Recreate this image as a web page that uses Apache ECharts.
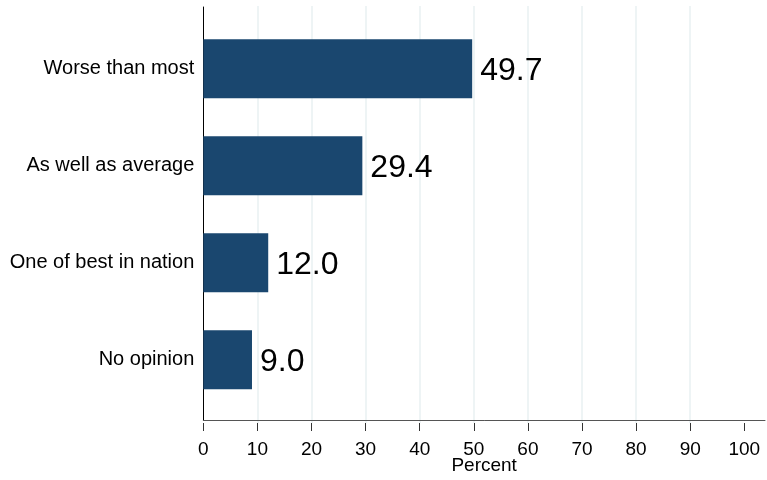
<!DOCTYPE html>
<html>
<head>
<meta charset="utf-8">
<script src="https://cdn.jsdelivr.net/npm/echarts@6/dist/echarts.min.js"></script>
<style>
html,body{margin:0;padding:0;background:#fff;}
#c{width:767px;height:480px;}
</style>
</head>
<body>
<div id="c"></div>
<script>
const categories = ['Worse than most', 'As well as average', 'One of best in nation', 'No opinion'];
const values = [49.7, 29.4, 12.0, 9.0];
const xTicks = [0, 10, 20, 30, 40, 50, 60, 70, 80, 90, 100];
const xTitle = 'Percent';

const FONT = '"Liberation Sans", Arial, sans-serif';
const chart = echarts.init(document.getElementById('c'), null, {renderer: 'canvas'});

const L = 203.3;
const W100 = 541;      // width for 0..100
const TOP = 6, BOTTOM = 57;

chart.setOption({
  backgroundColor: '#fff',
  animation: false,
  grid: [
    {left: L, top: TOP, width: W100, bottom: BOTTOM, containLabel: false},
    {left: L, top: TOP + 1, right: 2, bottom: BOTTOM, containLabel: false},
    {left: L, top: 20.3, width: W100, height: 388, containLabel: false}
  ],
  xAxis: [
    {
      gridIndex: 0, type: 'value', min: xTicks[0], max: xTicks[xTicks.length - 1], interval: 10,
      axisLine: {show: false},
      axisTick: {show: true, length: 8, lineStyle: {color: '#333', width: 1}},
      axisLabel: {show: true, margin: 17, fontSize: 19, color: '#000', fontFamily: FONT,
        formatter: v => xTicks.indexOf(v) >= 0 ? String(v) : ''},
      splitLine: {show: true, showMinLine: false, showMaxLine: false, lineStyle: {color: '#e8f0f2', width: 1.5}}
    },
    {
      gridIndex: 1, type: 'value', min: 0, max: 1,
      axisLine: {show: true, lineStyle: {color: '#555', width: 1}},
      axisTick: {show: false}, axisLabel: {show: false}, splitLine: {show: false},
      name: xTitle, nameLocation: 'middle', nameGap: 36,
      nameTextStyle: {fontSize: 19, color: '#000', fontFamily: FONT}
    },
    {
      gridIndex: 2, type: 'value', min: 0, max: 100, show: false
    }
  ],
  yAxis: [
    {gridIndex: 0, type: 'value', show: false},
    {
      gridIndex: 1, type: 'value', min: 0, max: 1,
      axisLine: {show: true, onZero: false, lineStyle: {color: '#000', width: 1}},
      axisTick: {show: false}, axisLabel: {show: false}, splitLine: {show: false}
    },
    {
      gridIndex: 2, type: 'category', data: categories, inverse: true,
      axisLine: {show: false}, axisTick: {show: false}, splitLine: {show: false},
      axisLabel: {margin: 9, fontSize: 20, color: '#000', fontFamily: FONT, padding: [4, 0, 0, 0]}
    }
  ],
  series: [{
    type: 'bar', xAxisIndex: 2, yAxisIndex: 2,
    data: values,
    barWidth: 59,
    itemStyle: {color: '#1a476f', borderWidth: 0},
    label: {
      show: true, position: 'right', distance: 8, offset: [0, 2],
      fontSize: 32, color: '#000', fontFamily: FONT,
      formatter: p => p.value.toFixed(1)
    }
  }]
});
</script>
</body>
</html>
